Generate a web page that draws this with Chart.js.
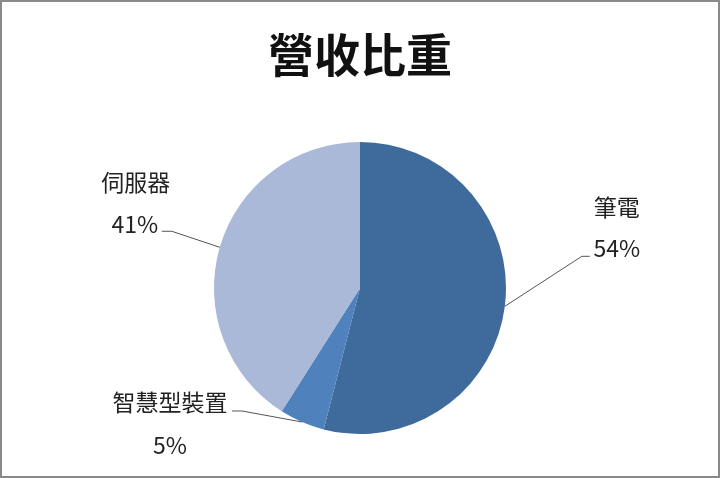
<!DOCTYPE html>
<html>
<head>
<meta charset="utf-8">
<script src="https://cdn.jsdelivr.net/npm/chart.js@4/dist/chart.umd.min.js"></script>
<style>
    body { margin: 0; background: #fff; }
    canvas { display: block; }
</style>
</head>
<body>
<canvas id="revenueChart" width="720" height="478"></canvas>
<script>
// data
const categories = ["筆電", "智慧型裝置", "伺服器"];
const shares = [54, 5, 41];
const sliceColors = ["#3F6A9C", "#4F81BD", "#AAB9D7"];

// label placement, relative to the outer edge point of each slice
const labelLayout = [
    { nameDx: 112, nameDy: -99, pctDx: 112, pctDy: -58, elbowDx: 77, elbowDy: -50, endDx: 85 },
    { nameDx: -132, nameDy: -20, pctDx: -132, pctDy: 23, elbowDx: -60, elbowDy: -11, endDx: -70 },
    { nameDx: -84, nameDy: -65, pctDx: -85, pctDy: -23, elbowDx: -48, elbowDy: -16, endDx: -58 }
];

const CJK = '"Noto Sans CJK TC", "Noto Sans", sans-serif';

const frame = {
    id: "frame",
    beforeDraw(chart) {
        const ctx = chart.ctx;
        ctx.save();
        ctx.fillStyle = "#ffffff";
        ctx.fillRect(0, 0, chart.width, chart.height);
        ctx.strokeStyle = "#8a8a8a";
        ctx.lineWidth = 2;
        ctx.strokeRect(1, 1, chart.width - 2, chart.height - 2);
        ctx.restore();
    },
    afterDraw(chart) {
        const ctx = chart.ctx;
        ctx.save();

        /* ---------- TITLE ---------- */
        ctx.fillStyle = "#111111";
        ctx.font = "bold 46px " + CJK;
        ctx.textAlign = "center";
        ctx.textBaseline = "middle";
        ctx.fillText("營收比重", 360, 55);

        /* ---------- SLICE LABELS ---------- */
        const arcs = chart.getDatasetMeta(0).data;
        arcs.forEach((arc, i) => {
            const mid = (arc.startAngle + arc.endAngle) / 2;
            const px = arc.x + arc.outerRadius * Math.cos(mid);
            const py = arc.y + arc.outerRadius * Math.sin(mid);
            const L = labelLayout[i];

            ctx.strokeStyle = "#555555";
            ctx.lineWidth = 1;
            ctx.beginPath();
            ctx.moveTo(px, py);
            ctx.lineTo(px + L.elbowDx, py + L.elbowDy);
            ctx.lineTo(px + L.endDx, py + L.elbowDy);
            ctx.stroke();

            ctx.fillStyle = "#222222";
            ctx.font = "23px " + CJK;
            ctx.fillText(categories[i], px + L.nameDx, py + L.nameDy);
            ctx.fillText(shares[i] + "%", px + L.pctDx, py + L.pctDy);
        });
        ctx.restore();
    }
};

new Chart(document.getElementById("revenueChart"), {
    type: "pie",
    data: {
        labels: categories,
        datasets: [{
            data: shares,
            backgroundColor: sliceColors,
            borderWidth: 0
        }]
    },
    options: {
        responsive: false,
        animation: false,
        layout: {
            padding: { top: 142, bottom: 44, left: 200, right: 200 }
        },
        plugins: {
            legend: { display: false },
            tooltip: { enabled: false },
            title: { display: false }
        }
    },
    plugins: [frame]
});
</script>
</body>
</html>
